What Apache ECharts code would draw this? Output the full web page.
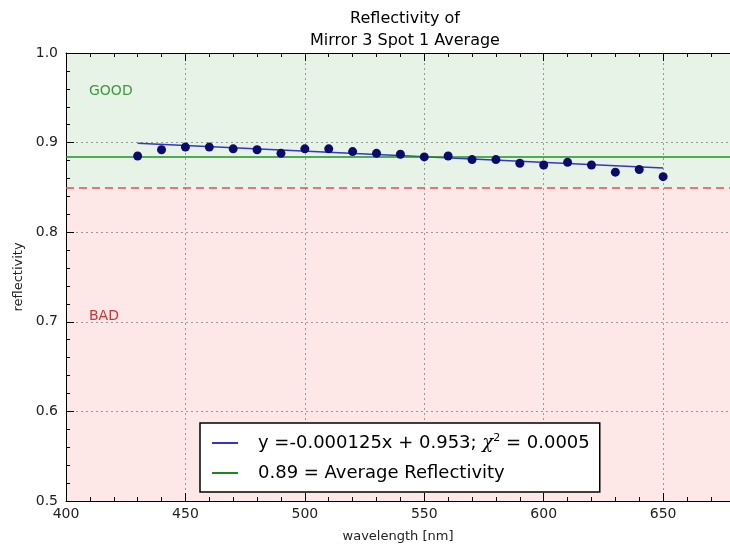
<!DOCTYPE html>
<html>
<head>
<meta charset="utf-8">
<script src="https://cdn.jsdelivr.net/npm/echarts@6/dist/echarts.min.js"></script>
<style>
  html, body { margin: 0; padding: 0; background: #fff; }
  #chart { width: 730px; height: 548px; }
</style>
</head>
<body>
<div id="chart"></div>
<script>
// measured points
const wavelengths = [430, 440, 450, 460, 470, 480, 490, 500, 510, 520, 530, 540,
                     550, 560, 570, 580, 590, 600, 610, 620, 630, 640, 650]
const reflectivity = [0.885, 0.892, 0.895, 0.895, 0.893, 0.892, 0.888, 0.893, 0.893, 0.890, 0.888, 0.887,
                      0.884, 0.885, 0.881, 0.881, 0.877, 0.875, 0.878, 0.875, 0.867, 0.870, 0.862]
// fit line ends (y = -0.000125x + 0.953)
const fitX = [430, 650]
const fitY = [0.89925, 0.87175]
const averageValue = 0.884
const threshold = 0.85
const fitName = 'fit'
const avgName = 'avg'

const font = 'DejaVu Sans'
const chart = echarts.init(document.getElementById('chart'))

const tickStyle = {
  inside: true, length: 8, lineStyle: { color: '#000', width: 1 }
}
const minorStyle = {
  show: true, splitNumber: 5, length: 4, lineStyle: { color: '#000', width: 1 }
}

chart.setOption({
  animation: false,
  backgroundColor: '#fff',
  title: {
    text: 'Reflectivity of\nMirror 3 Spot 1 Average',
    left: 400, top: 3, textAlign: 'center',
    textStyle: { fontFamily: font, fontSize: 16, fontWeight: 'normal', color: '#000', lineHeight: 22 }
  },
  grid: {
    left: 66, right: 0, top: 53, bottom: 47
  },
  legend: {
    data: [fitName, avgName],
    orient: 'vertical',
    left: 200, top: 423,
    z: 10,
    backgroundColor: '#fff',
    borderColor: '#000', borderWidth: 1.5, borderRadius: 0,
    padding: [10, 10, 9, 12],
    itemGap: 10,
    itemWidth: 26, itemHeight: 2,
    icon: 'rect',
    formatter: name => name === fitName
      ? '{t|y =-0.000125x + 0.953; }{c|χ}{s|2}{t| = 0.0005}'
      : '{t|0.89 = Average Reflectivity}',
    textStyle: {
      fontFamily: font, fontSize: 18, color: '#000', lineHeight: 20,
      padding: [0, 0, 0, 15],
      rich: {
        t: { fontFamily: font, fontSize: 18, color: '#000' },
        c: { fontFamily: 'DejaVu Serif', fontStyle: 'italic', fontSize: 18, color: '#000' },
        s: { fontFamily: font, fontSize: 11, color: '#000', verticalAlign: 'top', padding: [0, 0, 8, 0] }
      }
    }
  },
  graphic: [
    { type: 'text', left: 89, top: 84, z: 10, style: { text: 'GOOD', fill: '#3a9a3a', font: '14px "DejaVu Sans"' } },
    { type: 'text', left: 89, top: 309, z: 10, style: { text: 'BAD', fill: '#cc3333', font: '14px "DejaVu Sans"' } }
  ],
  xAxis: [{
    type: 'value', min: 400, max: 678, interval: 50, z: 2,
    name: 'wavelength [nm]', nameLocation: 'middle', nameGap: 29,
    nameTextStyle: { fontFamily: font, fontSize: 13, color: '#222' },
    axisLine: { show: true, lineStyle: { color: '#000' } },
    axisTick: tickStyle,
    minorTick: minorStyle,
    axisLabel: { fontFamily: font, fontSize: 14, color: '#222', margin: 6, showMaxLabel: false },
    splitLine: { show: true, lineStyle: { color: '#999', type: [2, 3] } }
  }, {
    type: 'value', min: 400, max: 678, interval: 50, position: 'top', z: 2,
    axisLine: { show: true, lineStyle: { color: '#000' } },
    axisTick: tickStyle,
    minorTick: minorStyle,
    axisLabel: { show: false },
    splitLine: { show: false }
  }],
  yAxis: {
    type: 'value', min: 0.5, max: 1.0, interval: 0.1, z: 2,
    name: 'reflectivity', nameLocation: 'middle', nameGap: 40,
    nameTextStyle: { fontFamily: font, fontSize: 13, color: '#222' },
    axisLine: { show: true, lineStyle: { color: '#000' } },
    axisTick: tickStyle,
    minorTick: minorStyle,
    axisLabel: { fontFamily: font, fontSize: 14, color: '#222', margin: 8, formatter: v => v.toFixed(1) },
    splitLine: { show: true, lineStyle: { color: '#999', type: [2, 3] } }
  },
  series: [
    {
      name: 'zones', type: 'line', data: [], silent: true,
      markArea: {
        silent: true,
        data: [
          [{ yAxis: threshold, itemStyle: { color: '#e7f3e7' } }, { yAxis: 1.0 }],
          [{ yAxis: 0.5, itemStyle: { color: '#fde7e7' } }, { yAxis: threshold }]
        ]
      },
      markLine: {
        silent: true, symbol: 'none', label: { show: false }, precision: 4,
        lineStyle: { color: '#d9534f', type: [8, 5], width: 1.5 },
        data: [{ yAxis: threshold }]
      },
      z: 1
    },
    {
      name: avgName, type: 'line', data: [], color: '#1a8a1a', silent: true,
      markLine: {
        silent: true, symbol: 'none', label: { show: false }, precision: 4,
        lineStyle: { color: '#1f931f', type: 'solid', width: 1.6, opacity: 1 },
        emphasis: { disabled: true },
        data: [{ yAxis: averageValue, lineStyle: { color: '#1f931f' } }]
      },
      z: 3
    },
    {
      name: fitName, type: 'line', color: '#3535c8', symbol: 'none',
      lineStyle: { width: 1.5 },
      data: fitX.map((x, i) => [x, fitY[i]]),
      z: 4
    },
    {
      name: 'points', type: 'scatter', color: '#0b0b6e',
      symbolSize: 9,
      itemStyle: { opacity: 1 },
      data: wavelengths.map((x, i) => [x, reflectivity[i]]),
      z: 5
    }
  ]
})
</script>
</body>
</html>
